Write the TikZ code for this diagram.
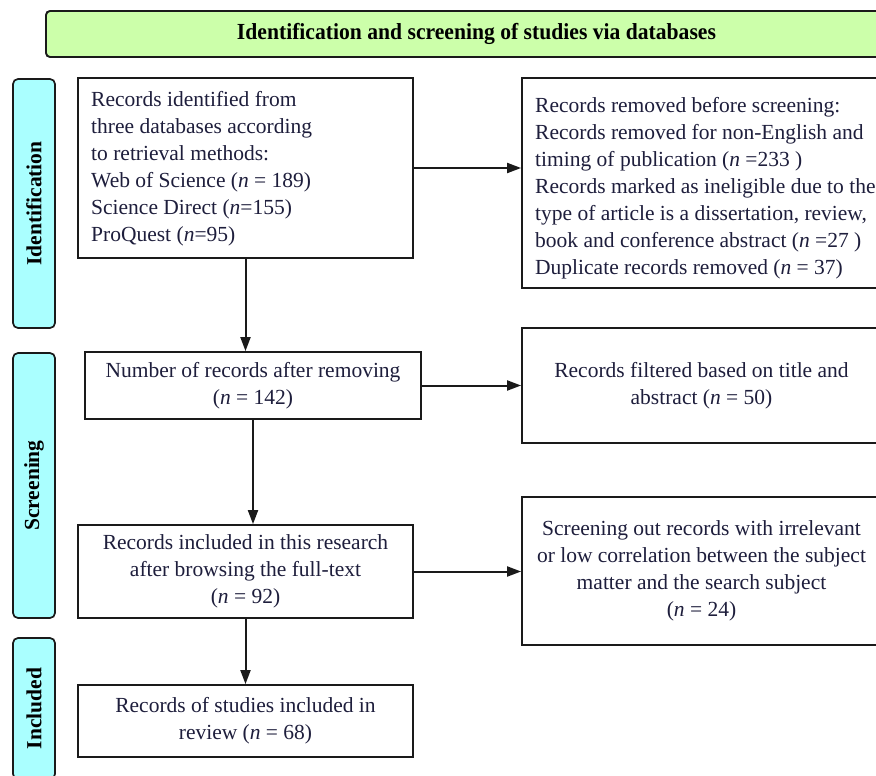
\documentclass[tikz,border=0pt]{standalone}
\usepackage{fontspec}
\setmainfont{Liberation Serif}
\usetikzlibrary{arrows.meta,calc}
\definecolor{txt}{HTML}{1E1E3C}
\definecolor{hdr}{HTML}{CCFFAA}
\definecolor{side}{HTML}{AAFFFF}
\definecolor{edge}{HTML}{1A1A1A}
\begin{document}
\begin{tikzpicture}[x=1pt,y=-1pt,
  font=\fontsize{21.5}{27}\selectfont, text=txt,
  box/.style={draw=edge, line width=1.8pt, fill=white, inner sep=0pt},
  hdrbox/.style={draw=edge, line width=1.9pt, fill=hdr, rounded corners=4pt, inner sep=0pt},
  sidebox/.style={draw=edge, line width=1.7pt, fill=side, rounded corners=5pt, inner sep=0pt, rotate=90, font=\fontsize{21.5}{27}\selectfont\bfseries, text=black},
  txtleft/.style={anchor=north west, align=left, inner sep=0pt},
  arr/.style={draw=edge, line width=2pt, -{Triangle[length=14pt,width=10pt]}}]
\useasboundingbox (0,0) rectangle (876,776);
\clip (0,0) rectangle (876,776);

% header
\node[hdrbox, minimum width=861pt, minimum height=46pt] (hdr) at (476.5,34)
  {\resizebox{479pt}{\height}{\fontsize{23}{27}\selectfont\bfseries\color{black}Identification and screening of studies via databases}};

% side labels
\node[sidebox, minimum width=249pt, minimum height=42pt] (s1) at (34,203.5) {Identification};
\node[sidebox, minimum width=265pt, minimum height=42pt] (s2) at (34,485.5) {Screening};
\node[sidebox, minimum width=141pt, minimum height=42pt] (s3) at (34,708.5) {Included};

% left column
\node[box, minimum width=335pt, minimum height=180pt] (b1) at (245.5,168) {};
\node[txtleft] (b1t) at (91,91.5) {Records identified from\\three databases according\\to retrieval methods:\\Web of Science (\textit{n} = 189)\\Science Direct (\textit{n}=155)\\ProQuest (\textit{n}=95)};

\node[box, minimum width=336pt, minimum height=67pt, align=center] (b2) at (253,385.5)
  {Number of records after removing\\(\textit{n} = 142)};

\node[box, minimum width=335pt, minimum height=93pt, align=center] (b3) at (245.5,571.5)
  {Records included in this research\\after browsing the full-text\\(\textit{n} = 92)};

\node[box, minimum width=335pt, minimum height=72pt, align=center] (b4) at (245.5,721)
  {Records of studies included in\\review (\textit{n} = 68)};

% right column
\node[box, minimum width=359pt, minimum height=210pt] (r1) at (701.5,183) {};
\node[txtleft] (r1t) at (535,97) {Records removed before screening:\\Records removed for non-English and\\timing of publication (\textit{n} =233 )\\Records marked as ineligible due to the\\type of article is a dissertation, review,\\book and conference abstract (\textit{n} =27 )\\Duplicate records removed (\textit{n} = 37)};

\node[box, minimum width=359pt, minimum height=115pt, align=center] (r2) at (701.5,385.5)
  {Records filtered based on title and\\abstract (\textit{n} = 50)};

\node[box, minimum width=359pt, minimum height=148pt, align=center] (r3) at (701.5,571)
  {Screening out records with irrelevant\\or low correlation between the subject\\matter and the search subject\\(\textit{n} = 24)};

% connectors
\draw[arr] (b1.south) -- (b1.south |- b2.north);
\draw[arr] (b2.south) -- (b2.south |- b3.north);
\draw[arr] (b3.south) -- (b3.south |- b4.north);
\draw[arr] (b1.east) -- (b1.east -| r1.west);
\draw[arr] (b2.east) -- (b2.east -| r2.west);
\draw[arr] (b3.east) -- (b3.east -| r3.west);
\end{tikzpicture}
\end{document}
